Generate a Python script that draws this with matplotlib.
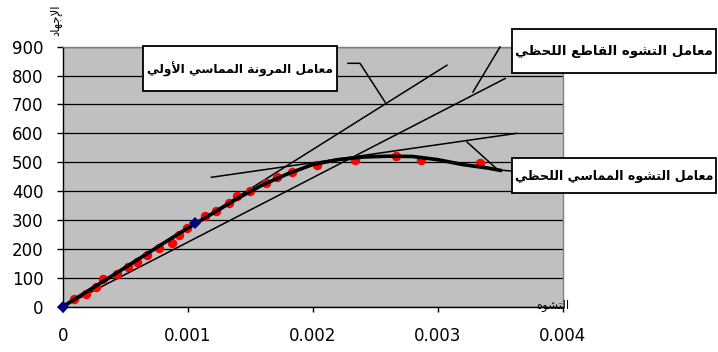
import matplotlib
matplotlib.use("Agg")
import matplotlib.pyplot as plt
from matplotlib.patches import Rectangle
from matplotlib.lines import Line2D

# ---------------- data ----------------
strain_pts = [0.00009, 0.00019, 0.000266, 0.000325, 0.000432, 0.000525, 0.000597,
              0.000677, 0.00077, 0.000872, 0.000933, 0.000992, 0.001138, 0.001226,
              0.001333, 0.001397, 0.001498, 0.001626, 0.001717, 0.001832, 0.002032,
              0.002338, 0.002664, 0.002866, 0.003338]
stress_pts = [27, 44, 67, 95, 113, 138, 156, 179, 204, 219, 248, 273, 314, 332,
              358, 383, 402, 427, 450, 467, 491, 508, 522, 508, 496]

curve_strain = [0, 0.0002, 0.0004, 0.0006, 0.0008, 0.001, 0.0012, 0.0014, 0.0016,
                0.0018, 0.002, 0.0022, 0.0024, 0.0026, 0.0028, 0.003, 0.0032,
                0.0033, 0.0034, 0.0035]
curve_stress = [0, 54, 108, 163, 218, 272, 323, 375, 422, 460, 492, 509, 518, 521,
                520, 509, 492, 486, 480, 472]

key_strain = [0, 0.00106]
key_stress = [0, 290]

initial_tangent_x = [0, 0.003074]
initial_tangent_y = [0, 836]
secant_x = [0, 0.00354]
secant_y = [0, 790]
tangent_x = [0.00119, 0.00363]
tangent_y = [448, 600]

x_ticks = [0, 0.001, 0.002, 0.003, 0.004]
x_tick_labels = ["0", "0.001", "0.002", "0.003", "0.004"]
y_ticks = [0, 100, 200, 300, 400, 500, 600, 700, 800, 900]

label_initial = "معامل المرونة المماسي الأولي"
label_secant = "معامل التشوه القاطع اللحظي"
label_tangent = "معامل التشوه المماسي اللحظي"
y_title = "الإجهاد"
x_title = "التشوه"

# ------------- minimal Arabic shaping (presentation forms) -------------
FORMS = {
    'ا': (0xFE8D, 0xFE8E, None, None), 'أ': (0xFE83, 0xFE84, None, None),
    'إ': (0xFE87, 0xFE88, None, None), 'ة': (0xFE93, 0xFE94, None, None),
    'د': (0xFEA9, 0xFEAA, None, None), 'ر': (0xFEAD, 0xFEAE, None, None),
    'و': (0xFEED, 0xFEEE, None, None),
    'ت': (0xFE95, 0xFE96, 0xFE97, 0xFE98), 'ج': (0xFE9D, 0xFE9E, 0xFE9F, 0xFEA0),
    'ح': (0xFEA1, 0xFEA2, 0xFEA3, 0xFEA4), 'س': (0xFEB1, 0xFEB2, 0xFEB3, 0xFEB4),
    'ش': (0xFEB5, 0xFEB6, 0xFEB7, 0xFEB8), 'ط': (0xFEC1, 0xFEC2, 0xFEC3, 0xFEC4),
    'ظ': (0xFEC5, 0xFEC6, 0xFEC7, 0xFEC8), 'ع': (0xFEC9, 0xFECA, 0xFECB, 0xFECC),
    'ق': (0xFED5, 0xFED6, 0xFED7, 0xFED8), 'ل': (0xFEDD, 0xFEDE, 0xFEDF, 0xFEE0),
    'م': (0xFEE1, 0xFEE2, 0xFEE3, 0xFEE4), 'ن': (0xFEE5, 0xFEE6, 0xFEE7, 0xFEE8),
    'ه': (0xFEE9, 0xFEEA, 0xFEEB, 0xFEEC), 'ي': (0xFEF1, 0xFEF2, 0xFEF3, 0xFEF4),
    'لا': (0xFEFB, 0xFEFC, None, None), 'لأ': (0xFEF7, 0xFEF8, None, None),
    'لإ': (0xFEF9, 0xFEFA, None, None),
}


def shape(text):
    toks = []
    i = 0
    while i < len(text):
        if text[i] == 'ل' and i + 1 < len(text) and text[i:i + 2] in FORMS:
            toks.append(text[i:i + 2]); i += 2
        else:
            toks.append(text[i]); i += 1
    out = []
    for k, t in enumerate(toks):
        if t not in FORMS:
            out.append(t); continue
        f = FORMS[t]
        prev = toks[k - 1] if k > 0 else None
        nxt = toks[k + 1] if k + 1 < len(toks) else None
        jp = prev in FORMS and FORMS[prev][2] is not None
        jn = f[2] is not None and nxt in FORMS
        if jp and jn:
            c = f[3]
        elif jp:
            c = f[1]
        elif jn:
            c = f[2]
        else:
            c = f[0]
        out.append(chr(c))
    return ''.join(out[::-1])


# ---------------- figure ----------------
W, H = 718, 352
fig = plt.figure(figsize=(W / 100, H / 100), dpi=100)
fig.patch.set_facecolor('white')


def fx(x):
    return x / W


def fy(y):
    return 1 - y / H


ax = fig.add_axes([fx(62.7), fy(306.7), (562.7 - 62.7) / W, (306.7 - 46.7) / H])
ax.set_facecolor('#C0C0C0')
ax.set_xlim(0, 0.004)
ax.set_ylim(0, 900)
ax.set_xticks(x_ticks)
ax.set_xticklabels(x_tick_labels)
ax.set_yticks(y_ticks)
ax.yaxis.grid(True, color='black', linewidth=0.9)
ax.set_axisbelow(True)
for s in ['top', 'right']:
    ax.spines[s].set_color('#808080')
    ax.spines[s].set_linewidth(1.0)
for s in ['left', 'bottom']:
    ax.spines[s].set_color('black')
    ax.spines[s].set_linewidth(1.0)
ax.tick_params(axis='x', direction='out', length=3.5, width=1, pad=11,
               labelsize=12, colors='black')
ax.tick_params(axis='y', direction='out', length=4, width=1, pad=10,
               labelsize=12, colors='black')

# reference lines
ax.plot(initial_tangent_x, initial_tangent_y, color='black', lw=1.1, zorder=3)
ax.plot(secant_x, secant_y, color='black', lw=1.1, zorder=3)
ax.plot(tangent_x, tangent_y, color='black', lw=1.1, zorder=3)

# measured points and curve
ax.plot(strain_pts, stress_pts, 'o', color='#FF0000', markersize=6.8,
        markeredgewidth=0, zorder=4)
ax.plot(curve_strain, curve_stress, color='black', lw=2.6, zorder=5,
        solid_joinstyle='round')
ax.plot(key_strain, key_stress, 'D', color='#000080', markersize=6.5,
        markeredgewidth=0, zorder=6, clip_on=False)

# axis titles
fig.text(fx(56), fy(20), shape(y_title), rotation=90, ha='center', va='center',
         fontsize=8.5, family='DejaVu Sans')
fig.text(fx(553), fy(305), shape(x_title), ha='center', va='center',
         fontsize=8.5, family='DejaVu Sans')

# callouts
boxes = [
    (label_initial, (143, 46, 337, 91), 186),
    (label_secant, (511.7, 29, 716, 72.7), 196),
    (label_tangent, (511.7, 158.3, 716, 193.3), 198),
]
texts = []
for lab, (x0, y0, x1, y1), target in boxes:
    fig.patches.append(Rectangle((fx(x0), fy(y1)), (x1 - x0) / W, (y1 - y0) / H,
                                 transform=fig.transFigure, facecolor='white',
                                 edgecolor='black', linewidth=1.3, zorder=10))
    t = fig.text(fx((x0 + x1) / 2), fy((y0 + y1) / 2 + 1), shape(lab), ha='center',
                 va='center', fontsize=11, fontweight='bold', family='DejaVu Sans',
                 zorder=11)
    texts.append((t, target))

fig.canvas.draw()
r = fig.canvas.get_renderer()
for t, target in texts:
    w = t.get_window_extent(r).width
    t.set_fontsize(11 * target / w)

leaders = [
    [(348, 63.3), (360, 63.3), (385, 102)],
    [(500, 47), (473, 92)],
    [(511.7, 171), (498, 170), (467, 142)],
]
for pts in leaders:
    fig.lines.append(Line2D([fx(p[0]) for p in pts], [fy(p[1]) for p in pts],
                            transform=fig.transFigure, color='black', lw=1.1,
                            zorder=9))

fig.savefig('out.png', dpi=100)
